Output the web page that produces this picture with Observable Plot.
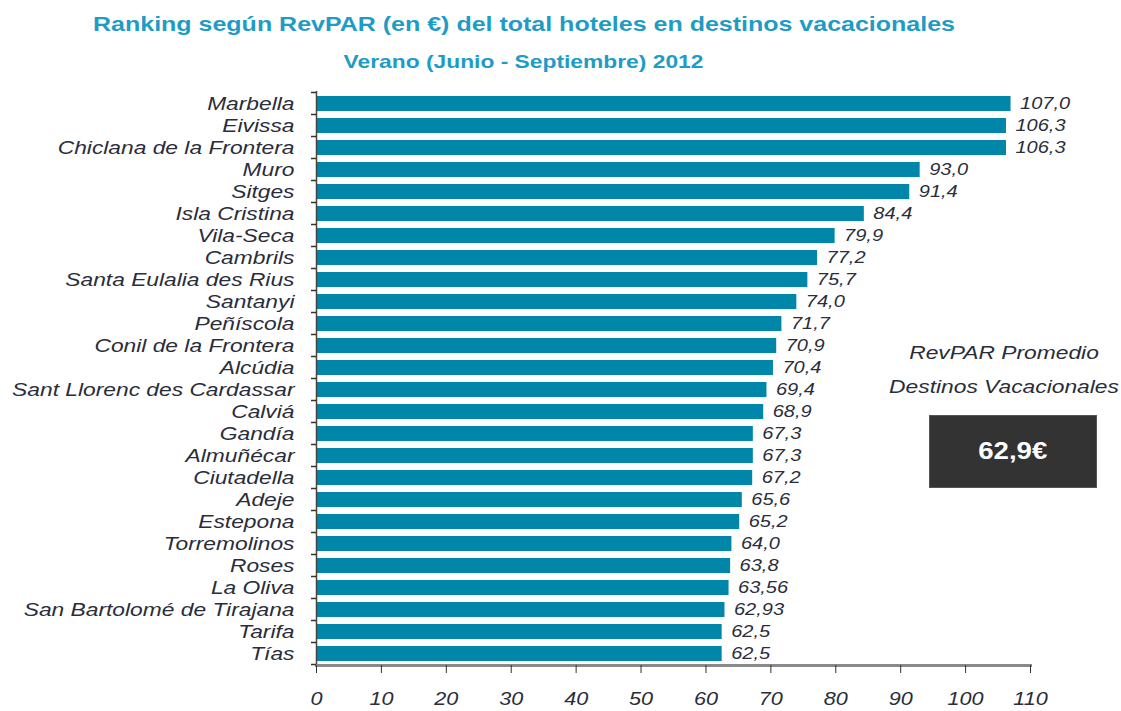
<!DOCTYPE html>
<html>
<head>
<meta charset="utf-8">
<script src="https://cdn.jsdelivr.net/npm/d3@7"></script>
<script src="https://cdn.jsdelivr.net/npm/@observablehq/plot@0.6"></script>
<style>
  html, body { margin: 0; padding: 0; background: #fff; }
  #wrap { position: relative; width: 1121px; height: 711px; font-family: "Liberation Sans", Arial, sans-serif; }
  #title { position: absolute; left: 0; width: 1048px; top: 12px; text-align: center; font-weight: bold; font-size: 21px; color: #1f9cc6; transform: scaleX(1.19); transform-origin: 524px 0; white-space: nowrap; }
  #subtitle { position: absolute; left: 0; width: 1047px; top: 51px; text-align: center; font-weight: bold; font-size: 19px; color: #1f9cc6; transform: scaleX(1.2); transform-origin: 523.5px 0; white-space: nowrap; }
  #chart { position: absolute; left: 0; top: 88px; }
  .note { position: absolute; font-style: italic; font-size: 19px; color: #2a2d3a; text-align: center; width: 240px; transform: scaleX(1.2); transform-origin: 120px 0; white-space: nowrap; }
  #box { position: absolute; left: 929px; top: 415px; width: 168px; height: 73px; background: #333333; border: 1px solid #555; box-sizing: border-box; color: #fff; font-weight: bold; font-size: 23px; display: flex; align-items: center; justify-content: center; }
  #box span { display: inline-block; transform: scaleX(1.2); }
</style>
</head>
<body>
<div id="wrap">
  <div id="title">Ranking según RevPAR (en €) del total hoteles en destinos vacacionales</div>
  <div id="subtitle">Verano (Junio - Septiembre) 2012</div>
  <div id="chart"></div>
  <div class="note" style="left:884px; top:342px;">RevPAR Promedio</div>
  <div class="note" style="left:884px; top:376px;">Destinos Vacacionales</div>
  <div id="box"><span>62,9€</span></div>
</div>
<script>
const cities = ["Marbella","Eivissa","Chiclana de la Frontera","Muro","Sitges","Isla Cristina","Vila-Seca","Cambrils","Santa Eulalia des Rius","Santanyi","Peñíscola","Conil de la Frontera","Alcúdia","Sant Llorenc des Cardassar","Calviá","Gandía","Almuñécar","Ciutadella","Adeje","Estepona","Torremolinos","Roses","La Oliva","San Bartolomé de Tirajana","Tarifa","Tías"];
const values = [107.0,106.3,106.3,93.0,91.4,84.4,79.9,77.2,75.7,74.0,71.7,70.9,70.4,69.4,68.9,67.3,67.3,67.2,65.6,65.2,64.0,63.8,63.56,62.93,62.5,62.5];
const valueLabels = ["107,0","106,3","106,3","93,0","91,4","84,4","79,9","77,2","75,7","74,0","71,7","70,9","70,4","69,4","68,9","67,3","67,3","67,2","65,6","65,2","64,0","63,8","63,56","62,93","62,5","62,5"];
const xTicks = [0,10,20,30,40,50,60,70,80,90,100,110];

const data = cities.map((c, i) => ({city: c, value: values[i], label: valueLabels[i]}));
const textColor = "#2a2d3a";

const chart = Plot.plot({
  width: 1121,
  height: 626,
  marginLeft: 316,
  marginRight: 91,
  marginTop: 3,
  marginBottom: 49,
  style: {fontFamily: "'Liberation Sans', Arial, sans-serif", color: textColor, background: "transparent"},
  x: {domain: [0, 110]},
  y: {domain: cities, paddingInner: 0.32, paddingOuter: 0.16},
  marks: [
    Plot.barX(data, {x: "value", y: "city", fill: "#0086a9"}),
    Plot.text(data, {x: "value", y: "city", text: "label", textAnchor: "start", dx: 9, fontStyle: "italic", fontSize: 16, fill: textColor}),
    Plot.ruleX([0], {stroke: "#444", strokeWidth: 1.5}),
    Plot.frame({anchor: "bottom", stroke: "#8a8a8a", strokeWidth: 3}),
    Plot.axisY({tickSize: 0, tickPadding: 22, fontSize: 19, fontStyle: "italic", label: null, fill: textColor}),
    Plot.axisX({ticks: xTicks, tickSize: 8, tickPadding: 19, fontSize: 18, fontStyle: "italic", label: null, stroke: "#333", fill: textColor})
  ]
});
document.getElementById("chart").appendChild(chart);

// Widen the text horizontally like the reference
function stretch(sel, k) {
  d3.select(chart).selectAll(sel).each(function() {
    const t = this.getAttribute("transform");
    if (t) {
      this.setAttribute("transform", t + ` scale(${k},1)`);
    } else {
      const x = +this.getAttribute("x") || 0, y = +this.getAttribute("y") || 0;
      this.setAttribute("transform", `translate(${x},${y}) scale(${k},1)`);
      this.setAttribute("x", 0); this.setAttribute("y", 0);
    }
  });
}
stretch("g[aria-label='y-axis tick label'] text", 1.2);
stretch("g[aria-label='x-axis tick label'] text", 1.2);
stretch("g[aria-label='text'] text", 1.25);

// Boundary ticks on the category axis, from the plot's own y scale
const ys = chart.scale("y");
const xs = chart.scale("x");
const x0 = xs.apply(0);
const gap = (ys.step - ys.bandwidth) / 2;
const bounds = cities.map(c => ys.apply(c) - gap);
bounds.push(ys.apply(cities[cities.length - 1]) + ys.bandwidth + gap);
d3.select(chart).append("g")
  .selectAll("line").data(bounds).join("line")
  .attr("x1", x0 - 5).attr("x2", x0)
  .attr("y1", d => d).attr("y2", d => d)
  .attr("stroke", "#333").attr("stroke-width", 1.5);
</script>
</body>
</html>
